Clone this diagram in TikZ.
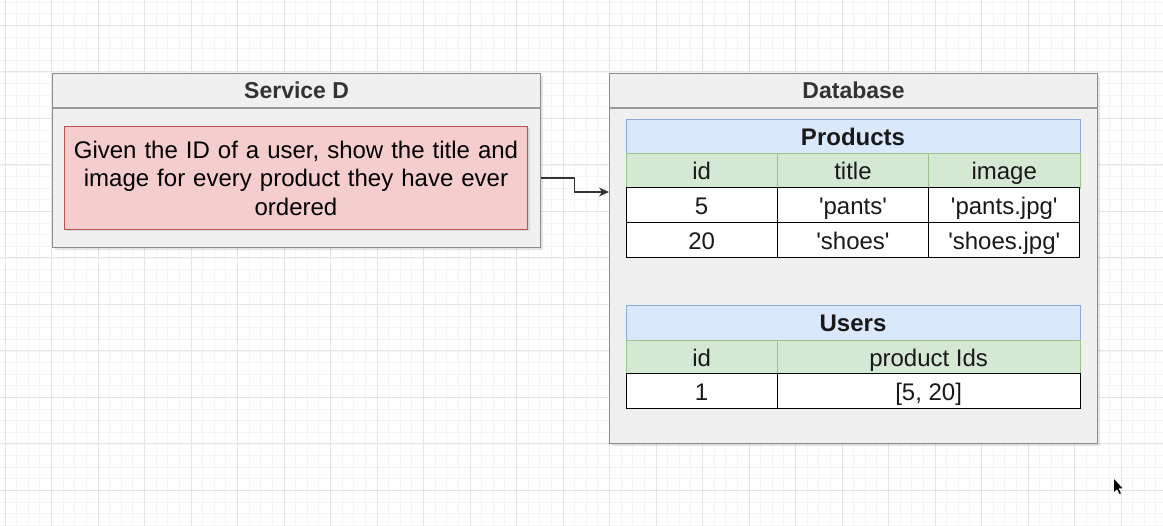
\documentclass[tikz,border=0pt]{standalone}
\usepackage{fontspec}
\setmainfont{Liberation Sans}[Ligatures=TeXOff]
\usetikzlibrary{positioning, shadows, arrows.meta}
\definecolor{reqfill}{HTML}{F4CDCC}
\definecolor{reqline}{HTML}{B85450}
\definecolor{hdfill}{HTML}{DAE8FC}
\definecolor{hdline}{HTML}{8EAAD6}
\definecolor{colfill}{HTML}{D5E8D4}
\definecolor{colline}{HTML}{9CC38C}

\begin{document}
\begin{tikzpicture}[x=1pt, y=-1pt, font=\fontsize{24}{28.5}\selectfont,
    gridminor/.style={draw=black!4, line width=.8pt},
    gridmajor/.style={draw=black!10, line width=1pt},
    cont/.style={draw=black!45, fill=black!6, line width=1.2pt, inner sep=0, anchor=north west,
        drop shadow={shadow xshift=2.5pt, shadow yshift=-2.5pt, opacity=.2}},
    conttitle/.style={font=\fontsize{23}{27}\selectfont\bfseries, text=black!80, inner sep=0},
    req/.style={draw=reqline, fill=reqfill, line width=1pt, anchor=north west, align=center,
        text width=450, inner sep=0, drop shadow={shadow xshift=2pt, shadow yshift=-2pt, opacity=.2}},
    cell/.style={draw, line width=1pt, fill=white, minimum height=35, inner sep=0, outer sep=0,
        text height=21, text depth=2.5, text=black!90},
    hd/.style={cell, draw=hdline, fill=hdfill, line width=.8pt, font=\fontsize{24}{28}\selectfont\bfseries},
    col/.style={cell, draw=colline, fill=colfill, line width=.8pt},
    w1/.style={minimum width=151.3},
    w2/.style={minimum width=302.7},
    w3/.style={minimum width=454},
    flow/.style={-{Stealth[length=10pt, width=9pt]}, line width=1.2pt, draw=black!80}]
    \useasboundingbox (0,0) rectangle (1163,526);
    \fill[white] (0,0) rectangle (1163,526);
    \foreach \i in {0,...,101}
        \draw[gridminor] ({-6.625+11.625*\i},0) -- ++(0,526);
    \foreach \i in {0,...,45}
        \draw[gridminor] (0,{2.25+11.625*\i}) -- ++(1163,0);
    \foreach \i in {0,...,24}
        \draw[gridmajor] ({5+46.5*\i},0) -- ++(0,526);
    \foreach \i in {0,...,10}
        \draw[gridmajor] (0,{25.5+46.5*\i}) -- ++(1163,0);

    \node[cont, minimum width=488, minimum height=174] (svc) at (52,73) {};
    \draw[draw=black!40, line width=1.2pt] ([yshift=-35pt]svc.north west) -- ([yshift=-35pt]svc.north east);
    \node[conttitle] (svc_t) at ([yshift=-17.5pt]svc.north) {Service D};
    \node[req, minimum width=463, minimum height=103] (req) at (64,126)
        {Given the ID of a user, show the title and\\image for every product they have ever\\ordered};

    \node[cont, minimum width=488, minimum height=370] (db) at (609,73) {};
    \draw[draw=black!40, line width=1.2pt] ([yshift=-35pt]db.north west) -- ([yshift=-35pt]db.north east);
    \node[conttitle] (db_t) at ([yshift=-17.5pt]db.north) {Database};

    \node[hd, w3, minimum height=34, anchor=north west] (p_hd) at (626,119) {Products};
    \node[col, w1, below right=0pt and 0pt of p_hd.south west] (p_c1) {id};
    \node[col, w1, right=0pt of p_c1] (p_c2) {title};
    \node[col, w1, right=0pt of p_c2] (p_c3) {image};
    \node[cell, w1, below=0pt of p_c1] (p_11) {5};
    \node[cell, w1, right=0pt of p_11] (p_12) {'pants'};
    \node[cell, w1, right=0pt of p_12] (p_13) {'pants.jpg'};
    \node[cell, w1, below=0pt of p_11] (p_21) {20};
    \node[cell, w1, right=0pt of p_21] (p_22) {'shoes'};
    \node[cell, w1, right=0pt of p_22] (p_23) {'shoes.jpg'};

    \node[hd, w3, anchor=north west] (u_hd) at (626,305) {Users};
    \node[col, w1, minimum height=34, below right=0pt and 0pt of u_hd.south west] (u_c1) {id};
    \node[col, w2, minimum height=34, right=0pt of u_c1] (u_c2) {product Ids};
    \node[cell, w1, below=0pt of u_c1] (u_11) {1};
    \node[cell, w2, right=0pt of u_11] (u_12) {[5, 20]};

    \draw[flow] (svc.east |- req.center) -- ++(33,0) |- ([yshift=-119pt]db.north west);

    \fill[black] (1114,479) -- (1114,492) -- (1117,489) -- (1119.5,494) -- (1121,493.3) -- (1118.6,488.5) -- (1122.5,488.2) -- cycle;
\end{tikzpicture}
\end{document}
